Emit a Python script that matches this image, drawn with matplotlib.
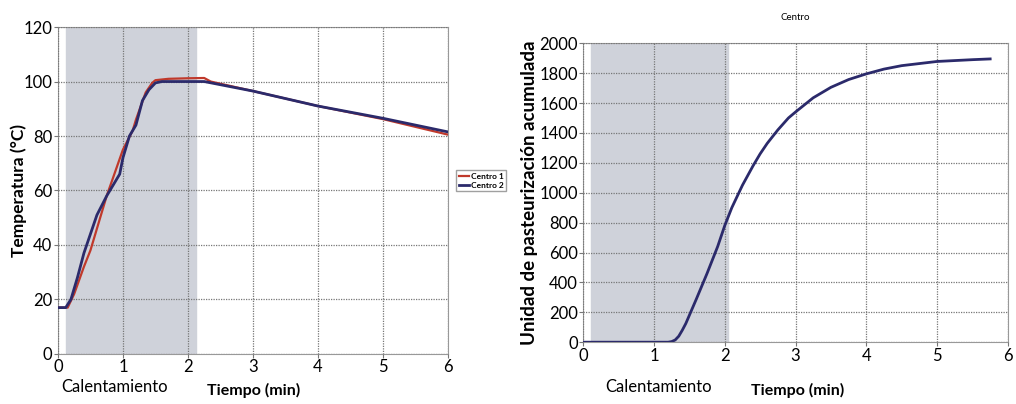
import matplotlib.pyplot as plt

plt.rcParams['font.family'] = ['Lato', 'DejaVu Sans']

# temperatura en el centro (min, °C)
t1 = [0, 0.15, 0.25, 0.4, 0.5, 0.75, 1.0, 1.15, 1.2, 1.35, 1.45, 1.5, 1.7, 2.0, 2.25, 2.35, 3, 4, 5, 6]
centro1 = [17, 17, 22, 32, 38, 58, 75, 82, 86, 96, 99.5, 100.5, 101, 101.2, 101.3, 100, 96.5, 91, 86.2, 80.5]
t2 = [0, 0.12, 0.2, 0.3, 0.4, 0.5, 0.6, 0.75, 0.85, 0.95, 1.0, 1.1, 1.2, 1.3, 1.4, 1.5, 1.6, 2.0, 2.25, 3, 4, 5, 6]
centro2 = [17, 17, 20, 28, 37, 44, 51, 58, 62, 66, 72, 80, 84, 93, 97, 99.5, 100, 100, 100, 96.5, 91, 86.5, 81.5]

# unidades de pasteurización acumuladas
t_up = [0, 0.5, 1.0, 1.2, 1.25, 1.3, 1.35, 1.4, 1.45, 1.5, 1.6, 1.75, 1.9, 2.0, 2.1, 2.25, 2.4,
        2.5, 2.6, 2.75, 2.9, 3.0, 3.25, 3.5, 3.75, 4.0, 4.25, 4.5, 5.0, 5.5, 5.75]
up = [0, 0, 0, 0, 4, 15, 40, 80, 125, 180, 290, 460, 640, 780, 900, 1050, 1180,
      1260, 1330, 1420, 1500, 1540, 1635, 1705, 1757, 1795, 1827, 1850, 1878, 1890, 1895]

fig = plt.figure(figsize=(10.16, 4.04), dpi=100)
ax1 = fig.add_axes([0.057, 0.124, 0.384, 0.809])
ax2 = fig.add_axes([0.574, 0.153, 0.418, 0.740])

navy = '#2b2a6b'
red = '#c0392b'

ax1.axvspan(0.13, 2.12, color='#cfd2da', zorder=0)
ax1.plot(t1, centro1, color=red, lw=1.6, label='Centro 1', zorder=3)
ax1.plot(t2, centro2, color=navy, lw=2, label='Centro 2', zorder=4)
ax1.set_xlim(0, 6)
ax1.set_ylim(0, 120)
ax1.set_xticks(range(7))
ax1.set_yticks(range(0, 121, 20))
ax1.set_ylabel('Temperatura (°C)', fontweight='bold', fontsize=12.5)
ax1.yaxis.set_label_coords(-0.08, 0.5)
ax1.legend(loc='center left', bbox_to_anchor=(1.01, 0.53),
           frameon=True, fancybox=False, edgecolor='#888888', handlelength=1.2,
           borderpad=0.3, labelspacing=0.2, handletextpad=0.3,
           prop={'weight': 'bold', 'size': 6})

ax2.axvspan(0.11, 2.05, color='#cfd2da', zorder=0)
ax2.plot(t_up, up, color=navy, lw=2, zorder=3)
ax2.set_xlim(0, 6)
ax2.set_ylim(0, 2000)
ax2.set_xticks(range(7))
ax2.set_yticks(range(0, 2001, 200))
ax2.set_ylabel('Unidad de pasteurización acumulada', fontweight='bold', fontsize=13.5)
ax2.yaxis.set_label_coords(-0.107, 0.5)
ax2.set_title('Centro', fontsize=7, pad=17)

for ax in (ax1, ax2):
    ax.grid(True, color='#777777', linestyle=(0, (1, 1)), lw=0.9)
    ax.tick_params(labelsize=12, length=3, pad=1, color='#777777')
    for s in ax.spines.values():
        s.set_color('#999999')
    ax.set_axisbelow(False)

fig.text(0.113, 0.03, 'Calentamiento', fontsize=12, ha='center')
fig.text(0.250, 0.022, 'Tiempo (min)', fontsize=11.5, ha='center', fontweight='bold')
fig.text(0.648, 0.03, 'Calentamiento', fontsize=12, ha='center')
fig.text(0.785, 0.022, 'Tiempo (min)', fontsize=11.5, ha='center', fontweight='bold')

fig.savefig('out.png', dpi=100)
